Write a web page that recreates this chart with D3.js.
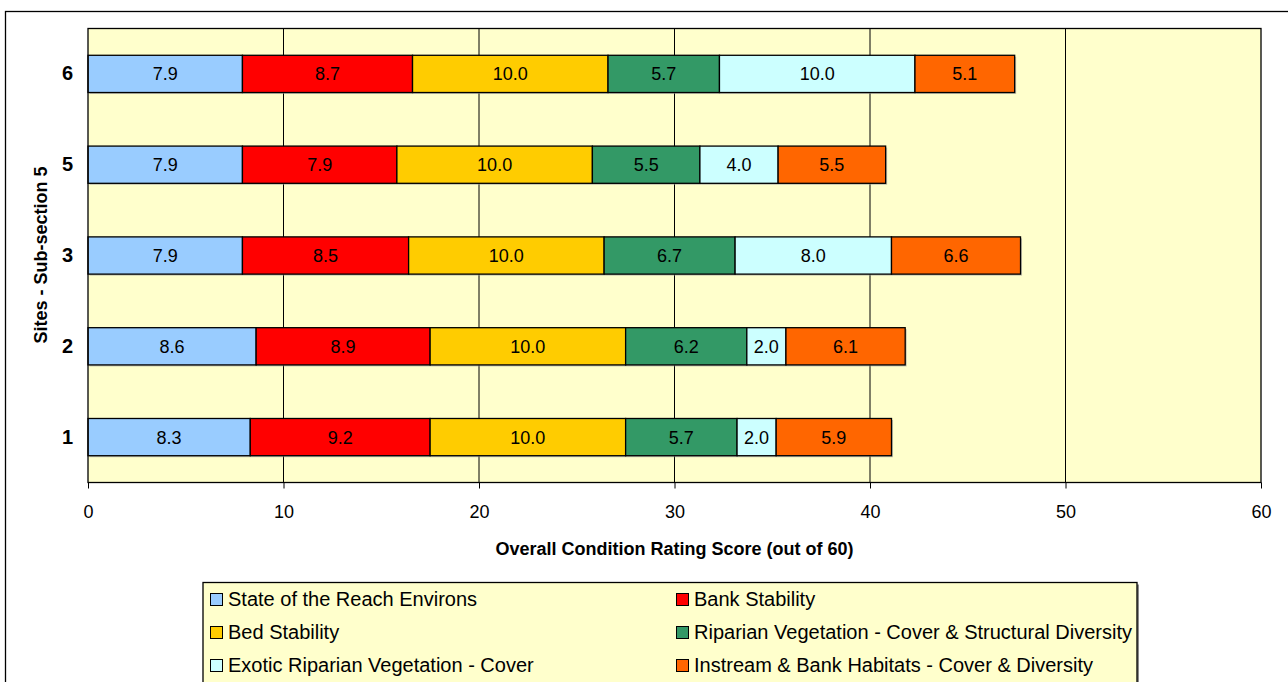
<!DOCTYPE html>
<html>
<head>
<meta charset="utf-8">
<script src="https://cdn.jsdelivr.net/npm/d3@7"></script>
<style>
  html, body { margin: 0; padding: 0; background: #ffffff; }
  svg { display: block; font-family: "Liberation Sans", Arial, sans-serif; }
</style>
</head>
<body>
<svg id="chart" width="1288" height="682"></svg>
<script>
// Sites, top to bottom
const sites = ["6", "5", "3", "2", "1"];

// Component names and fills
const components = [
  "State of the Reach Environs",
  "Bank Stability",
  "Bed Stability",
  "Riparian Vegetation - Cover & Structural Diversity",
  "Exotic Riparian Vegetation - Cover",
  "Instream & Bank Habitats - Cover & Diversity"
];
const colors = ["#99CCFF", "#FF0000", "#FFCC00", "#339966", "#CCFFFF", "#FF6600"];

// Scores per component, in site order above
const reachEnvirons   = [7.9, 7.9, 7.9, 8.6, 8.3];
const bankStability   = [8.7, 7.9, 8.5, 8.9, 9.2];
const bedStability    = [10.0, 10.0, 10.0, 10.0, 10.0];
const riparianVeg     = [5.7, 5.5, 6.7, 6.2, 5.7];
const exoticVeg       = [10.0, 4.0, 8.0, 2.0, 2.0];
const instreamHabitat = [5.1, 5.5, 6.6, 6.1, 5.9];

const xTicks = [0, 10, 20, 30, 40, 50, 60];

const seriesValues = [reachEnvirons, bankStability, bedStability, riparianVeg, exoticVeg, instreamHabitat];

const table = sites.map((s, i) => {
  const row = { site: s };
  components.forEach((c, j) => { row[c] = seriesValues[j][i]; });
  return row;
});

const svg = d3.select("#chart");

// Outer chart frame
svg.append("rect")
  .attr("x", 5.5).attr("y", 11.5)
  .attr("width", 1290).attr("height", 700)
  .attr("fill", "#ffffff").attr("stroke", "#000000").attr("stroke-width", 1.3);

const plot = { left: 88, right: 1261, top: 28.5, bottom: 482.5 };

const x = d3.scaleLinear().domain([0, 60]).range([plot.left, plot.right]);
const y = d3.scaleBand().domain(sites).range([plot.top, plot.bottom]).paddingInner(0.59).paddingOuter(0.295);

// Plot background
svg.append("rect")
  .attr("x", plot.left).attr("y", plot.top)
  .attr("width", plot.right - plot.left).attr("height", plot.bottom - plot.top)
  .attr("fill", "#FFFFCC");

// Vertical gridlines
svg.append("g")
  .selectAll("line")
  .data(xTicks.slice(1, -1))
  .join("line")
  .attr("x1", d => x(d)).attr("x2", d => x(d))
  .attr("y1", plot.top).attr("y2", plot.bottom)
  .attr("stroke", "#000000").attr("stroke-width", 1);

// Stacked bars
const stack = d3.stack().keys(components);
const layers = stack(table);

const layerG = svg.append("g")
  .selectAll("g")
  .data(layers)
  .join("g")
  .attr("fill", (d, i) => colors[i]);

// soft shadow beneath each segment
layerG.selectAll("rect.shadow")
  .data(d => d)
  .join("rect")
  .attr("class", "shadow")
  .attr("x", d => x(d[0]) + 1.5)
  .attr("y", d => y(d.data.site) + 1.5)
  .attr("width", d => x(d[1]) - x(d[0]))
  .attr("height", y.bandwidth())
  .attr("fill", "#9a9a9a").attr("opacity", 0.6);

layerG.selectAll("rect.seg")
  .data(d => d)
  .join("rect")
  .attr("class", "seg")
  .attr("x", d => x(d[0]))
  .attr("y", d => y(d.data.site))
  .attr("width", d => x(d[1]) - x(d[0]))
  .attr("height", y.bandwidth())
  .attr("stroke", "#000000").attr("stroke-width", 1.3);

// Segment value labels
svg.append("g")
  .selectAll("g")
  .data(layers)
  .join("g")
  .selectAll("text")
  .data(d => d.map(p => ({ p, key: d.key })))
  .join("text")
  .attr("x", d => (x(d.p[0]) + x(d.p[1])) / 2)
  .attr("y", d => y(d.p.data.site) + y.bandwidth() / 2)
  .attr("dy", "0.36em")
  .attr("text-anchor", "middle")
  .attr("font-size", 18)
  .attr("fill", "#000000")
  .text(d => d.p.data[d.key].toFixed(1));

// Plot border
svg.append("rect")
  .attr("x", plot.left).attr("y", plot.top)
  .attr("width", plot.right - plot.left).attr("height", plot.bottom - plot.top)
  .attr("fill", "none").attr("stroke", "#000000").attr("stroke-width", 1.3);

// X axis
const xAxis = svg.append("g")
  .attr("transform", `translate(0,${plot.bottom})`)
  .call(d3.axisBottom(x).tickValues(xTicks).tickSize(6).tickPadding(17).tickFormat(d3.format("d")));
xAxis.select(".domain").remove();
xAxis.selectAll(".tick line").attr("stroke", "#000000");
xAxis.selectAll(".tick text")
  .attr("font-family", "'Liberation Sans', Arial, sans-serif")
  .attr("font-size", 18).attr("fill", "#000000");

// Y axis (category labels)
const yAxis = svg.append("g")
  .attr("transform", `translate(${plot.left},0)`)
  .call(d3.axisLeft(y).tickSize(0).tickPadding(15));
yAxis.select(".domain").remove();
yAxis.selectAll(".tick text")
  .attr("font-family", "'Liberation Sans', Arial, sans-serif")
  .attr("font-size", 20).attr("font-weight", "bold").attr("fill", "#000000");

// Axis titles
svg.append("text")
  .attr("x", (plot.left + plot.right) / 2).attr("y", 554.5)
  .attr("text-anchor", "middle")
  .attr("font-size", 18).attr("font-weight", "bold")
  .text("Overall Condition Rating Score (out of 60)");

svg.append("text")
  .attr("transform", `translate(46.5,255) rotate(-90)`)
  .attr("text-anchor", "middle")
  .attr("font-size", 18).attr("font-weight", "bold")
  .text("Sites - Sub-section 5");

// Legend
const legend = { x: 203, y: 582.5, w: 934, h: 120 };
svg.append("rect")
  .attr("x", legend.x + 2).attr("y", legend.y + 2)
  .attr("width", legend.w).attr("height", legend.h)
  .attr("fill", "#8a8a8a");
svg.append("rect")
  .attr("x", legend.x).attr("y", legend.y)
  .attr("width", legend.w).attr("height", legend.h)
  .attr("fill", "#FFFFCC").attr("stroke", "#000000").attr("stroke-width", 1.3);

const colX = [210, 676];
const rowY = [599, 632, 665];
const items = svg.append("g")
  .selectAll("g")
  .data(components)
  .join("g")
  .attr("transform", (d, i) => `translate(${colX[i % 2]},${rowY[Math.floor(i / 2)]})`);

items.append("rect")
  .attr("x", 0.5).attr("y", -5.5)
  .attr("width", 12).attr("height", 12)
  .attr("fill", (d, i) => colors[i])
  .attr("stroke", "#000000").attr("stroke-width", 1);

items.append("text")
  .attr("x", 18).attr("y", 0)
  .attr("dy", "0.35em")
  .attr("font-size", 20)
  .attr("fill", "#000000")
  .text(d => d);
</script>
</body>
</html>
